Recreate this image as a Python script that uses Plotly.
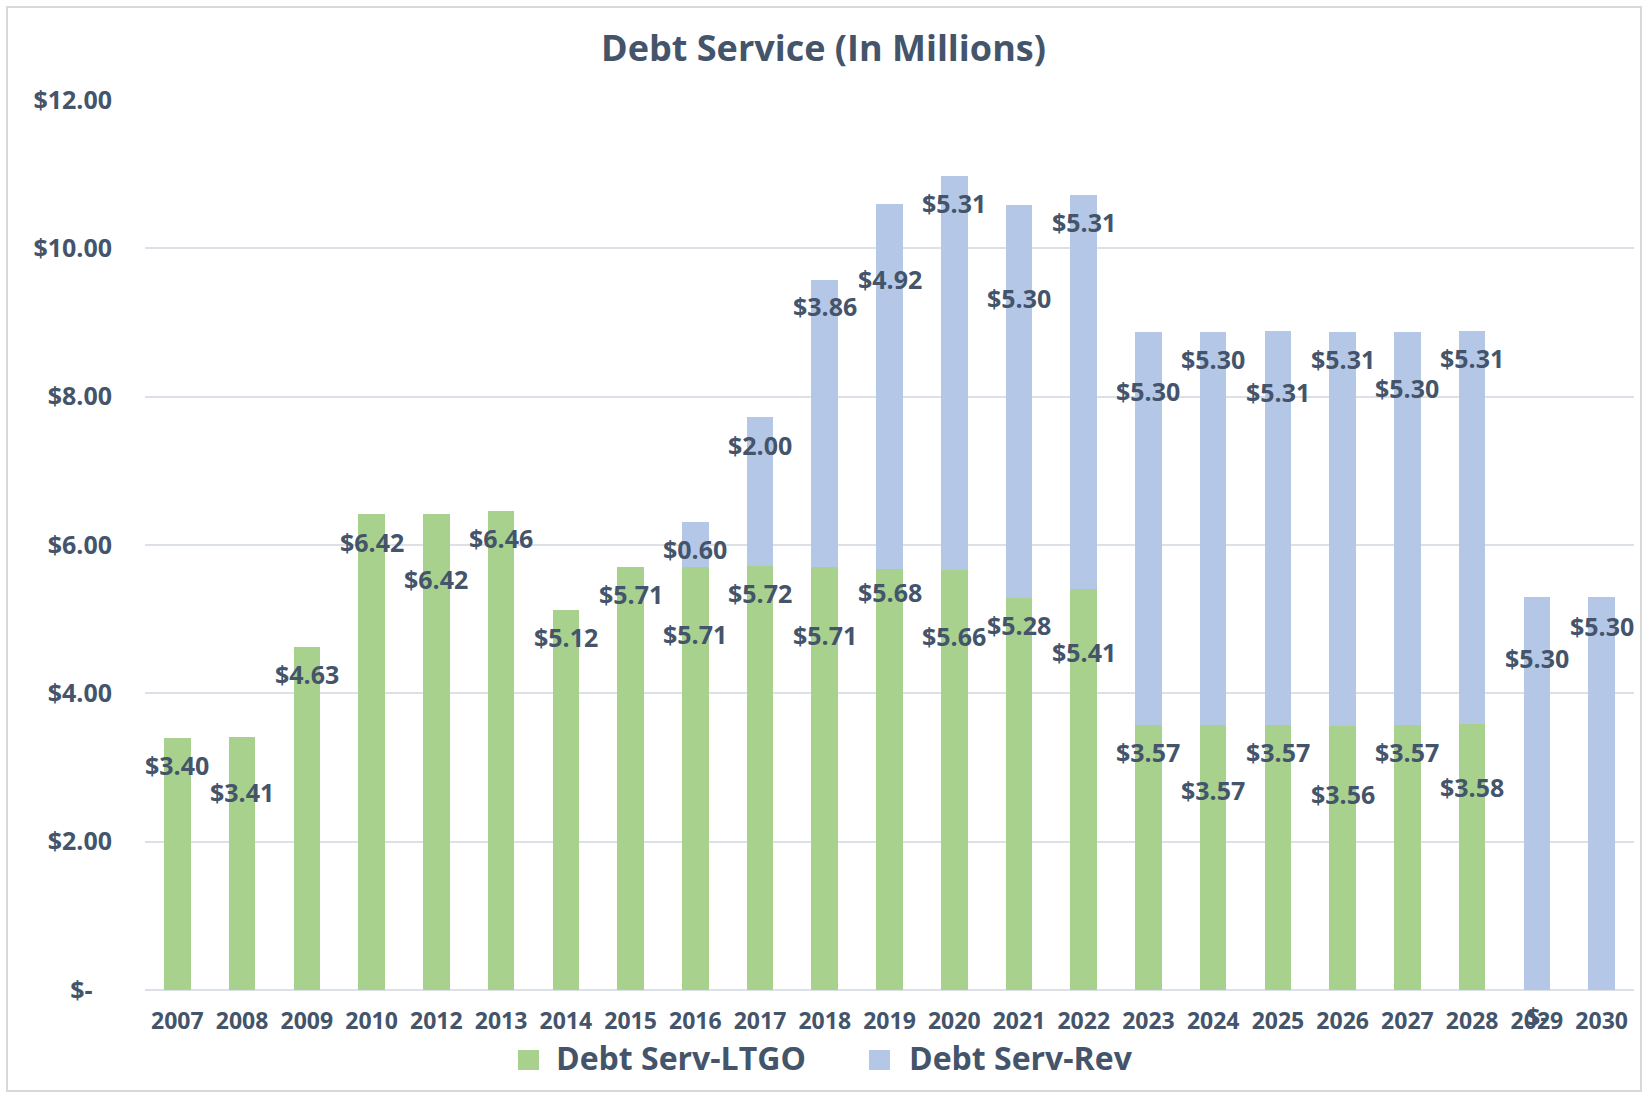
import plotly.graph_objects as go

# ---- data ----
years = ["2007", "2008", "2009", "2010", "2012", "2013", "2014", "2015", "2016", "2017",
         "2018", "2019", "2020", "2021", "2022", "2023", "2024", "2025", "2026", "2027",
         "2028", "2029", "2030"]
ltgo = [3.40, 3.41, 4.63, 6.42, 6.42, 6.46, 5.12, 5.71, 5.71, 5.72,
        5.71, 5.68, 5.66, 5.28, 5.41, 3.57, 3.57, 3.57, 3.56, 3.57,
        3.58, 0.00, 0.00]
rev = [0.00, 0.00, 0.00, 0.00, 0.00, 0.00, 0.00, 0.00, 0.60, 2.00,
       3.86, 4.92, 5.31, 5.30, 5.31, 5.30, 5.30, 5.31, 5.31, 5.30,
       5.31, 5.30, 5.30]
ytick_vals = [0, 2, 4, 6, 8, 10, 12]
ytick_text = ["$-\u00a0\u00a0\u00a0", "$2.00", "$4.00", "$6.00", "$8.00", "$10.00", "$12.00"]
title_text = "Debt Service (In Millions)"
series_names = ["Debt Serv-LTGO", "Debt Serv-Rev"]

# ---- label layout (pixel nudges below segment top, None = hidden) ----
ltgo_label_drop = [27, 55, 27, 28, 65, 27, 27, 27, 67, 27, 68, 23, 66, 27, 63, 27, 65, 27, 68, 27, 63, 26, None]
rev_label_drop = [None] * 8 + [27, 28, 26, 75, 27, 93, 27, 59, 27, 61, 27, 56, 27, 61, 29]

# ---- styles ----
GREEN = "#A9D18E"
BLUE = "#B4C7E7"
TXT = "#44546A"
GRID = "#DCE1E8"
FONT = "Open Sans"
W, H = 1647, 1097
L, R, T, B = 145, 1634, 100, 990


def fmt(v):
    return "$-" if v == 0 else f"${v:.2f}"


def bold(s):
    return f"<b>{s}</b>"


def px_x(p):
    return (p - L) / (R - L)


def px_y(p):
    return (B - p) / (B - T)


fig = go.Figure()
fig.add_trace(go.Bar(x=years, y=ltgo, name=series_names[0], marker_color=GREEN,
                     marker_line_width=0, showlegend=False))
fig.add_trace(go.Bar(x=years, y=rev, name=series_names[1], marker_color=BLUE,
                     marker_line_width=0, showlegend=False))

annotations = []
lab_font = dict(family=FONT, size=25, color=TXT)
for i, yr in enumerate(years):
    d = ltgo_label_drop[i]
    if d is not None:
        annotations.append(dict(x=i, y=ltgo[i], xref="x", yref="y", text=bold(fmt(ltgo[i])),
                                showarrow=False, yshift=-d, yanchor="middle", font=lab_font))
    d = rev_label_drop[i]
    if d is not None and rev[i] > 0:
        annotations.append(dict(x=i, y=ltgo[i] + rev[i], xref="x", yref="y", text=bold(fmt(rev[i])),
                                showarrow=False, yshift=-d, yanchor="middle", font=lab_font))

# manual legend
leg_font = dict(family=FONT, size=32, color=TXT)
shapes = []
legend_items = [(518, 557, GREEN, series_names[0]), (869, 910, BLUE, series_names[1])]
for x0, tx, col, name in legend_items:
    shapes.append(dict(type="rect", xref="paper", yref="paper",
                       x0=px_x(x0), x1=px_x(x0 + 21), y0=px_y(1050), y1=px_y(1070),
                       fillcolor=col, line_width=0))
    annotations.append(dict(x=px_x(tx), y=px_y(1057), xref="paper", yref="paper",
                            text=bold(name), showarrow=False, xanchor="left", yanchor="middle",
                            xshift=-3, font=leg_font))

# outer border
shapes.append(dict(type="rect", xref="paper", yref="paper",
                   x0=px_x(7), x1=px_x(1641), y0=px_y(1091), y1=px_y(7),
                   line=dict(color="#D9D9D9", width=2), fillcolor="rgba(0,0,0,0)", layer="below"))

fig.update_layout(
    width=W, height=H,
    margin=dict(l=L, r=W - R, t=T, b=H - B),
    paper_bgcolor="white", plot_bgcolor="white",
    barmode="stack", bargap=0.59,
    title=dict(text=bold(title_text), x=0.5, xref="container", xanchor="center",
               y=1 - 48 / H, yref="container", yanchor="middle",
               font=dict(family=FONT, size=36, color=TXT)),
    xaxis=dict(type="category", range=[-0.5, len(years) - 0.5],
               tickvals=years, ticktext=[bold(y) for y in years],
               tickfont=dict(family=FONT, size=23, color=TXT),
               showgrid=False, ticks="", ticklabelstandoff=15, showline=False),
    yaxis=dict(range=[0, 12], tickvals=ytick_vals, ticktext=[bold(t) for t in ytick_text],
               tickfont=dict(family=FONT, size=25, color=TXT),
               gridcolor=GRID, gridwidth=2, zeroline=True, zerolinecolor=GRID, zerolinewidth=2,
               ticks="", ticklabelstandoff=32),
    annotations=annotations,
    shapes=shapes,
)

fig.write_html("out.html")
